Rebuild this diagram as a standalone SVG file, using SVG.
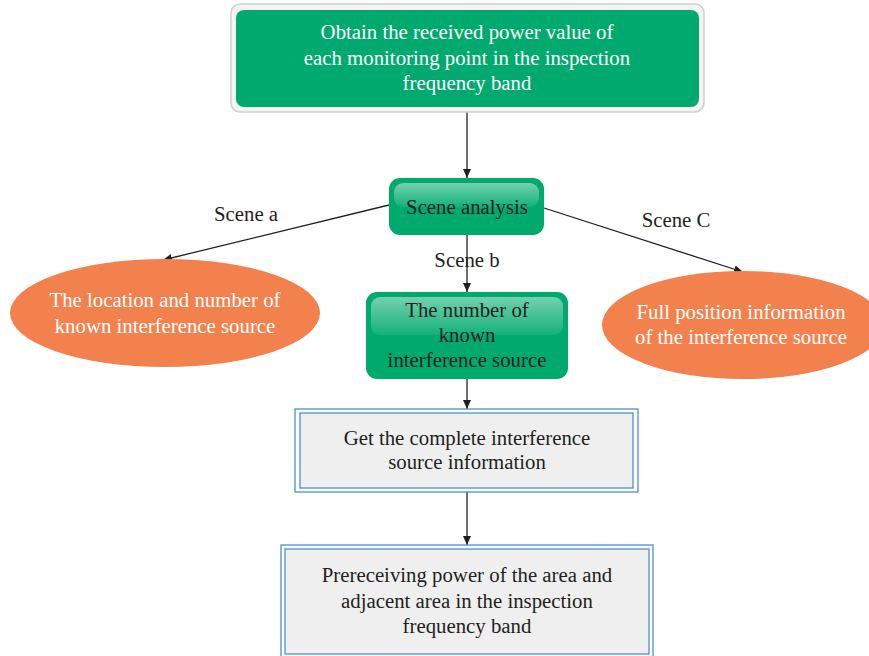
<svg xmlns="http://www.w3.org/2000/svg" width="869" height="656" viewBox="0 0 869 656">
  <style>
    text { font-family: "Liberation Serif", "DejaVu Serif", serif; font-size: 20.8px; text-anchor: middle; dominant-baseline: central; }
    .light { fill: #ffffff; }
    .dark { fill: #231f20; }
    .conn { stroke: #231f20; stroke-width: 1.3; fill: none; marker-end: url(#arrow); }
    .green { fill: #00aa6f; }
    .orange { fill: #f3814d; }
    .blue-outer { fill: #ffffff; stroke: #4f8fd0; stroke-width: 1.3; }
    .blue-inner { fill: #efefef; stroke: #4f8fd0; stroke-width: 1.3; }
  </style>
  <defs>
    <marker id="arrow" markerWidth="10" markerHeight="10" refX="9" refY="5" orient="auto" markerUnits="userSpaceOnUse">
      <path d="M0,1 L9,5 L0,9 Z" fill="#231f20"/>
    </marker>
    <linearGradient id="gloss" x1="0" y1="0" x2="0" y2="1">
      <stop offset="0" stop-color="#ffffff" stop-opacity="0.45"/>
      <stop offset="1" stop-color="#ffffff" stop-opacity="0.08"/>
    </linearGradient>
  </defs>

  <rect width="869" height="656" fill="#ffffff"/>

  <g id="connectors">
    <line class="conn" x1="467" y1="112" x2="467" y2="178"/>
    <line class="conn" x1="467" y1="235" x2="467" y2="292"/>
    <line class="conn" x1="389" y1="205" x2="163" y2="260"/>
    <line class="conn" x1="544" y1="208" x2="743" y2="272"/>
    <line class="conn" x1="467" y1="379" x2="467" y2="409"/>
    <line class="conn" x1="467" y1="492" x2="467" y2="545"/>
    <text class="dark" x="246" y="213">Scene a</text>
    <text class="dark" x="467" y="259">Scene b</text>
    <text class="dark" x="676" y="219">Scene C</text>
  </g>

  <g id="obtain-power">
    <rect x="231" y="4" width="473" height="108" rx="9" fill="#f4f4f4" stroke="#d0d0d0" stroke-width="1.5"/>
    <rect class="green" x="236" y="10" width="463" height="97" rx="8"/>
    <text class="light" x="467" y="31">Obtain the received power value of</text>
    <text class="light" x="467" y="57">each monitoring point in the inspection</text>
    <text class="light" x="467" y="82">frequency band</text>
  </g>

  <g id="scene-analysis">
    <rect class="green" x="389" y="178" width="155" height="57" rx="11"/>
    <rect x="394" y="183" width="145" height="24" rx="9" fill="url(#gloss)"/>
    <text class="dark" x="467" y="206">Scene analysis</text>
  </g>

  <g id="location-number">
    <ellipse class="orange" cx="165" cy="313" rx="155" ry="54"/>
    <text class="light" x="165" y="299">The location and number of</text>
    <text class="light" x="165" y="325">known interference source</text>
  </g>

  <g id="number-known">
    <rect class="green" x="366" y="292" width="202" height="87" rx="11"/>
    <rect x="371" y="297" width="192" height="38" rx="9" fill="url(#gloss)"/>
    <text class="dark" x="467" y="309">The number of</text>
    <text class="dark" x="467" y="334">known</text>
    <text class="dark" x="467" y="359">interference source</text>
  </g>

  <g id="full-position">
    <ellipse class="orange" cx="743" cy="325" rx="141" ry="54"/>
    <text class="light" x="741" y="311">Full position information</text>
    <text class="light" x="741" y="336">of the interference source</text>
  </g>

  <g id="complete-info">
    <rect class="blue-outer" x="295" y="409" width="343" height="83"/>
    <rect class="blue-inner" x="300" y="413" width="333" height="75"/>
    <text class="dark" x="467" y="437">Get the complete interference</text>
    <text class="dark" x="467" y="461">source information</text>
  </g>

  <g id="prereceiving">
    <rect class="blue-outer" x="281" y="545" width="372" height="115"/>
    <rect class="blue-inner" x="285" y="549" width="364" height="105"/>
    <text class="dark" x="467" y="574">Prereceiving power of the area and</text>
    <text class="dark" x="467" y="600">adjacent area in the inspection</text>
    <text class="dark" x="467" y="625">frequency band</text>
  </g>
</svg>
